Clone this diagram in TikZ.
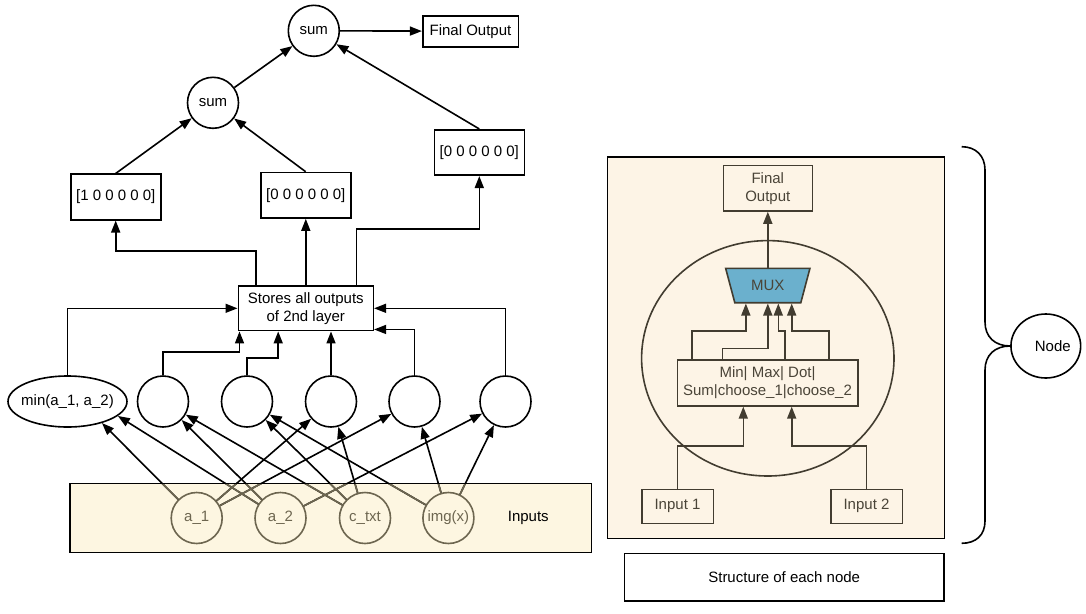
\documentclass[tikz,border=0pt]{standalone}
\usepackage{fontspec}
\setmainfont{Liberation Sans}
\usetikzlibrary{arrows.meta,shapes.geometric,calc}

\definecolor{panelfill}{HTML}{FDF4E6}
\definecolor{infill}{HTML}{FDF6E1}
\definecolor{nbrown}{HTML}{423C30}
\definecolor{ntext}{HTML}{4A4438}
\definecolor{inbrown}{HTML}{6D6650}
\definecolor{muxblue}{HTML}{6BB0CD}

\begin{document}
\begin{tikzpicture}[x=1pt,y=-1pt,line width=1.6pt,
  font=\fontsize{15}{18}\selectfont,
  arr/.style={-{Triangle[length=12pt,width=9pt]}},
  parr/.style={nbrown,-{Triangle[length=12pt,width=9pt]}},
  opcircle/.style={circle,draw,minimum size=51pt,inner sep=0pt},
  vecbox/.style={draw,minimum width=90pt,minimum height=45.5pt,inner sep=0pt},
  incircle/.style={circle,draw=inbrown,text=inbrown,minimum size=51pt,inner sep=0pt},
  pbox/.style={draw=nbrown,text=ntext,align=center,inner sep=0pt}]

\useasboundingbox (0,0) rectangle (1086,613);

% ---------- output tree ----------
\node[opcircle] (sumtop) at (313.8,30.8) {sum};
\node[draw,minimum width=95.6pt,minimum height=31pt,inner sep=0pt] (final) at (470.5,31.2) {Final Output};
\node[opcircle] (sumlow) at (213,102.8) {sum};
\node[vecbox] (v1) at (115.7,197) {[1 0 0 0 0 0]};
\node[vecbox] (v2) at (305.7,195.3) {[0 0 0 0 0 0]};
\node[vecbox] (v3) at (479.3,152.5) {[0 0 0 0 0 0]};

\draw[arr] (sumtop) -- (final);
\draw[arr] (sumlow) -- (sumtop);
\draw[arr] (v1.north) -- (sumlow);
\draw[arr] (v2.north) -- (sumlow);
\draw[arr] (v3.north) -- (sumtop);

% ---------- second layer store ----------
\node[draw,minimum width=135pt,minimum height=44.7pt,inner sep=0pt,align=center] (store) at (305.8,308.3) {Stores all outputs\\of 2nd layer};

\draw[arr] ([xshift=18.7pt]store.north west) -- ++(0,-34) -| (v1.south);
\draw[arr] (store.north) -- (store.north |- v2.south);
\draw[arr] ([xshift=-17.6pt]store.north east) -- ++(0,-56) -| (v3.south);

% ---------- node row ----------
\node[ellipse,draw,minimum width=119pt,minimum height=51pt,inner sep=0pt,
      label={center:min(a\_1, a\_2)}] (mn) at (67.5,401.5) {};
\foreach \cx [count=\i] in {163,247,331,414.5,505.5}
  \node[opcircle] (c\i) at (\cx,401.5) {};

\draw[arr] (mn.north) |- (store.west);
\draw[arr] (c1.north) -- ++(0,-23.3) -| ([xshift=2pt]store.south west);
\draw[arr] (c2.north) -- ++(0,-17.3) -| ([xshift=40.7pt]store.south west);
\draw[arr] (c3.north) -- (c3.north |- store.south);
\draw[arr] (c4.north) |- ([yshift=2pt]store.south east);
\draw[arr] (c5.north) |- (store.east);

% ---------- inputs ----------
\node[fill=infill,minimum width=520pt,minimum height=67.4pt,inner sep=0pt] (inbox) at (330.7,518) {};
\node[incircle] (a1) at (196.7,518) {a\_1};
\node[incircle] (a2) at (280.5,518) {a\_2};
\node[incircle] (ct) at (365,518) {c\_txt};
\node[incircle] (im) at (448.4,518) {img(x)};
\node (inlabel) at (528.3,518) {Inputs};

\foreach \s/\t in {a1/mn.-32, a2/mn.-16, a2/c1, ct/c1, ct/c2, im/c2,
                   a1/c3, ct/c3, a1/c4, im/c4, a2/c5, im/c5}
  \draw[arr] (\s) -- (\t);
\begin{scope}
  \clip (inbox.north west) rectangle (inbox.south east);
  \foreach \s/\t in {a1/mn.-32, a2/mn.-16, a2/c1, ct/c1, ct/c2, im/c2,
                     a1/c3, ct/c3, a1/c4, im/c4, a2/c5, im/c5}
    \draw[inbrown] (\s) -- (\t);
\end{scope}
\draw (inbox.north west) rectangle (inbox.south east);

% ---------- structure of a node ----------
\node[draw,fill=panelfill,minimum width=337pt,minimum height=381.6pt,inner sep=0pt] (panel) at (775.8,347.5) {};
\node[pbox,minimum width=89pt,minimum height=45.3pt] (fo) at (767.8,188.3) {Final\\Output};
\node[ellipse,draw=nbrown,minimum width=252.4pt,minimum height=235.4pt,inner sep=0pt] (cell) at (767.8,358.3) {};

\coordinate (muxc) at (767.8,285.5);
\filldraw[fill=muxblue,draw=nbrown] ($(muxc)+(-42.15,-17.2)$) -- ($(muxc)+(42.15,-17.2)$)
  -- ($(muxc)+(33,17.2)$) -- ($(muxc)+(-33,17.2)$) -- cycle;
\node[text=ntext,minimum width=84.3pt,minimum height=34.4pt,inner sep=0pt] (mux) at (muxc) {MUX};

\node[pbox,minimum width=180.4pt,minimum height=45.7pt] (ops) at (767.5,383) {Min| Max| Dot|\\Sum|choose\_1|choose\_2};
\node[pbox,minimum width=71.6pt,minimum height=34pt] (in1) at (677.5,506.3) {Input 1};
\node[pbox,minimum width=71.6pt,minimum height=34pt] (in2) at (866.5,506.3) {Input 2};

\draw[parr] (mux.north) -- (fo.south);
\draw[parr] ([xshift=15.4pt]ops.north west) -- ++(0,-28.3) -| ([xshift=21pt]mux.south west);
\draw[parr] ([xshift=46pt]ops.north west) -- ++(0,-10.7) -| (mux.south);
\draw[parr] ([xshift=108.4pt]ops.north west) -- ++(0,-28.3) -| ([xshift=10.5pt]mux.south);
\draw[parr] ([xshift=-29.4pt]ops.north east) -- ++(0,-28.3) -| ([xshift=23.9pt]mux.south);
\draw[parr] (in1.north) -- ++(0,-42.6) -| ([xshift=-24.2pt]ops.south);
\draw[parr] (in2.north) -- ++(0,-42.6) -| ([xshift=24.2pt]ops.south);

\node[draw,fill=white,minimum width=319.7pt,minimum height=47.4pt,inner sep=0pt] (caption) at (784.2,577) {Structure of each node};

% ---------- brace and legend ----------
\node[ellipse,draw,minimum width=69.7pt,minimum height=64pt,inner sep=0pt,
      label={[xshift=7pt]center:Node}] (nd) at (1045.8,346) {};
\draw (961.7,146.7) .. controls (976,146.7) and (985,156) .. (985,170)
  -- (985,322) .. controls (985,337) and (995,346) .. (nd.west)
  .. controls (995,346) and (985,355) .. (985,370)
  -- (985,521) .. controls (985,535) and (976,543.3) .. (961.7,543.3);

\end{tikzpicture}
\end{document}
